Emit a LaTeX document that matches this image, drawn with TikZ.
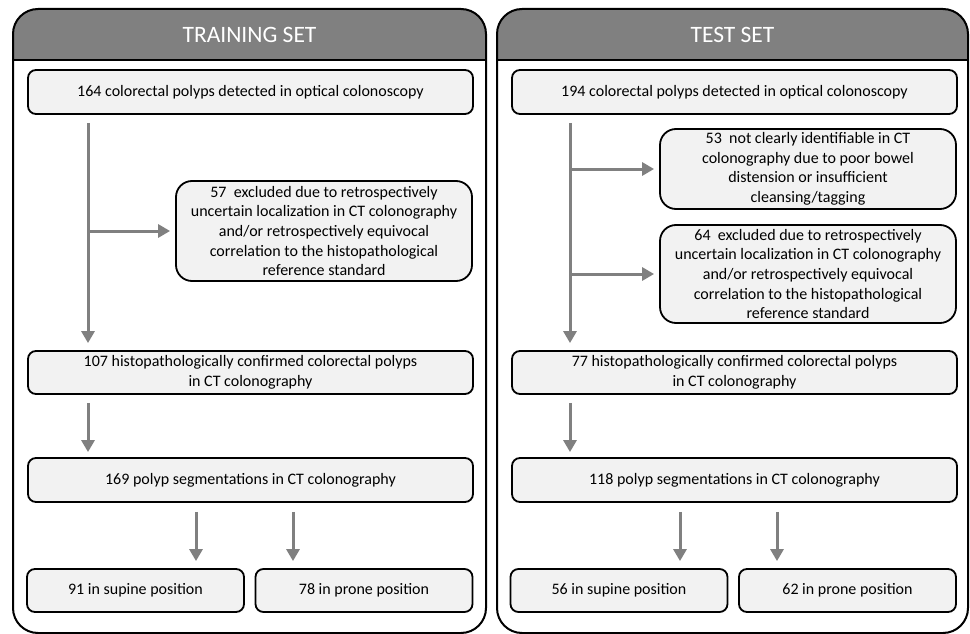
\documentclass[tikz,border=0pt]{standalone}
\usepackage{fontspec}
\setmainfont{Carlito}
\usepackage{xcolor}
\usepackage{tikz}
\usetikzlibrary{arrows.meta}
\definecolor{headgray}{RGB}{128,128,128}
\definecolor{boxgray}{RGB}{242,242,242}
\definecolor{arrowgray}{RGB}{128,128,128}

\begin{document}
\begin{tikzpicture}[x=1pt,y=-1pt,
        panel/.style={draw=black,line width=2pt,rounded corners=25pt},
        titletext/.style={text=white,font=\fontsize{23.5}{27}\selectfont},
        flowbox/.style={draw=black,line width=1.8pt,fill=boxgray,rounded corners=8pt,align=center,inner sep=0pt,font=\fontsize{16}{19.6}\selectfont},
        widebox/.style={flowbox,minimum width=445pt,minimum height=44pt},
        halfbox/.style={flowbox,minimum width=217pt,minimum height=43pt},
        exbox/.style={flowbox,rounded corners=16pt,minimum width=296pt},
        flowarrow/.style={draw=arrowgray,line width=3pt,-{Triangle[length=12pt,width=13pt]}}]
        \useasboundingbox (0,0) rectangle (970,634);
        % two panels with grey header band
        \foreach \xa/\xb in {13/486,497/968}{
            \begin{scope}
                \clip[rounded corners=25pt] (\xa,9) rectangle (\xb,633);
                \fill[headgray] (\xa,9) rectangle (\xb,60);
            \end{scope}
            \draw[panel] (\xa,9) rectangle (\xb,633);
            \draw[line width=2pt] (\xa,60) -- (\xb,60);
        }
        \node[titletext] (trTitle) at (249.5,35) {TRAINING SET};
        \node[titletext] (teTitle) at (732.5,35) {TEST SET};

        % training set
        \node[widebox] (trIn) at (250.5,92) {164 colorectal polyps detected in optical colonoscopy};
        \node[exbox,minimum height=100pt] (trEx) at (324,231) {57\ \ excluded due to retrospectively\\uncertain localization in CT colonography\\and/or retrospectively equivocal\\correlation to the histopathological\\reference standard};
        \node[widebox,minimum height=43pt] (trConf) at (250.5,372.5) {107 histopathologically confirmed colorectal polyps\\in CT colonography};
        \node[widebox] (trSeg) at (250.5,480) {169 polyp segmentations in CT colonography};
        \node[halfbox] (trSup) at (135.5,590.5) {91 in supine position};
        \node[halfbox] (trPro) at (364,590.5) {78 in prone position};

        % test set
        \node[widebox] (teIn) at (734.5,92) {194 colorectal polyps detected in optical colonoscopy};
        \node[exbox,minimum height=80pt] (teExA) at (808,169) {53\ \ not clearly identifiable in CT\\colonography due to poor bowel\\distension or insufficient\\cleansing/tagging};
        \node[exbox,minimum height=98pt] (teExB) at (808,274) {64\ \ excluded due to retrospectively\\uncertain localization in CT colonography\\and/or retrospectively equivocal\\correlation to the histopathological\\reference standard};
        \node[widebox,minimum height=43pt] (teConf) at (734.5,372.5) {77 histopathologically confirmed colorectal polyps\\in CT colonography};
        \node[widebox] (teSeg) at (734.5,480) {118 polyp segmentations in CT colonography};
        \node[halfbox] (teSup) at (619,590.5) {56 in supine position};
        \node[halfbox] (tePro) at (847.5,590.5) {62 in prone position};

        % arrows
        \coordinate (trTrunk) at (88,0);
        \coordinate (teTrunk) at (570,0);
        \coordinate (trSplitA) at (196,0);
        \coordinate (trSplitB) at (293,0);
        \coordinate (teSplitA) at (680,0);
        \coordinate (teSplitB) at (777,0);
        \draw[flowarrow,shorten <=8pt,shorten >=7pt] (trIn.south -| trTrunk) -- (trConf.north -| trTrunk);
        \draw[flowarrow,shorten >=5pt] (trEx.west -| trTrunk) -- (trEx.west);
        \draw[flowarrow,shorten <=8pt,shorten >=5pt] (trConf.south -| trTrunk) -- (trSeg.north -| trTrunk);
        \draw[flowarrow,shorten <=9pt,shorten >=7pt] (trSeg.south -| trSplitA) -- (trSup.north -| trSplitA);
        \draw[flowarrow,shorten <=9pt,shorten >=7pt] (trSeg.south -| trSplitB) -- (trPro.north -| trSplitB);
        \draw[flowarrow,shorten <=8pt,shorten >=7pt] (teIn.south -| teTrunk) -- (teConf.north -| teTrunk);
        \draw[flowarrow,shorten >=5pt] (teExA.west -| teTrunk) -- (teExA.west);
        \draw[flowarrow,shorten >=5pt] (teExB.west -| teTrunk) -- (teExB.west);
        \draw[flowarrow,shorten <=8pt,shorten >=5pt] (teConf.south -| teTrunk) -- (teSeg.north -| teTrunk);
        \draw[flowarrow,shorten <=9pt,shorten >=7pt] (teSeg.south -| teSplitA) -- (teSup.north -| teSplitA);
        \draw[flowarrow,shorten <=9pt,shorten >=7pt] (teSeg.south -| teSplitB) -- (tePro.north -| teSplitB);
\end{tikzpicture}
\end{document}
